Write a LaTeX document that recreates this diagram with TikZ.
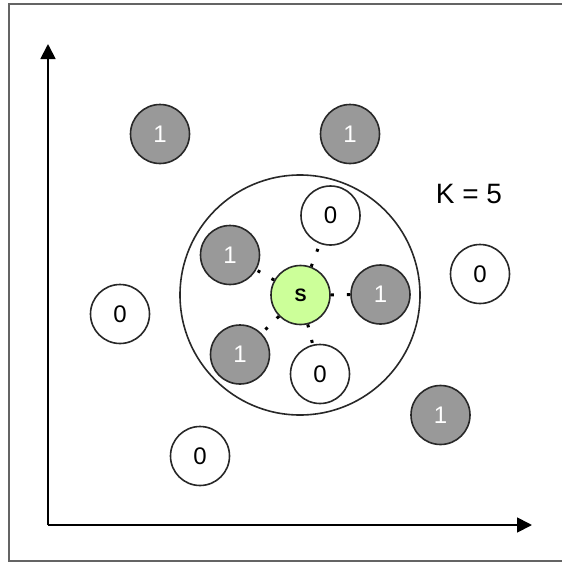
\documentclass[tikz,border=0pt]{standalone}
\usepackage{fontspec}
\setmainfont{Liberation Sans}
\usetikzlibrary{arrows.meta}
\definecolor{pointgray}{RGB}{153,153,153}
\definecolor{seedgreen}{RGB}{204,255,153}
\definecolor{edgegray}{RGB}{40,40,40}
\definecolor{framegray}{RGB}{100,100,100}

\begin{document}
\begin{tikzpicture}[x=1pt,y=-1pt,
    sample/.style={circle, draw=edgegray, line width=1.6pt, minimum size=59pt, inner sep=0pt,
        font=\fontsize{24}{26}\selectfont},
    one/.style={sample, fill=pointgray, text=white},
    zero/.style={sample, fill=white},
    seed/.style={sample, fill=seedgreen, font=\fontsize{18}{20}\selectfont\bfseries},
    link/.style={line width=3pt, dash pattern=on 3pt off 13pt}]
    \useasboundingbox (0,0) rectangle (562,565);

    % Frame (the right side is cut off)
    \draw[framegray, line width=1.8pt] (570,4) -- (9,4) -- (9,561) -- (570,561);

    % Axes
    \coordinate (origin) at (48,525);
    \coordinate (xend) at (532,525);
    \coordinate (yend) at (48,44);
    \draw[line width=1.8pt, -{Triangle[length=15pt,width=15pt]}] (origin) -- (xend);
    \draw[line width=1.8pt, -{Triangle[length=15pt,width=15pt]}] (origin) -- (yend);

    % Neighbourhood of the query point
    \node[circle, draw=edgegray, line width=1.6pt, minimum size=240pt] (hood) at (300,295) {};

    % Query point and its neighbours
    \node[seed] (s) at (300.5,295) {S};
    \node[zero] (nTop) at (330.5,215.5) {0};
    \node[one] (nLeft) at (230,255) {1};
    \node[one] (nRight) at (380.5,294.5) {1};
    \node[one] (nLow) at (240,354.5) {1};
    \node[zero] (nBottom) at (320,374) {0};

    % Other points
    \node[one] (a) at (160,134) {1};
    \node[one] (b) at (350,134) {1};
    \node[zero] (c) at (480,274) {0};
    \node[zero] (d) at (120,314) {0};
    \node[one] (e) at (440.5,415) {1};
    \node[zero] (f) at (200,456) {0};

    % Links to the K nearest
    \foreach \n in {nTop,nLeft,nRight,nLow,nBottom}
        \draw[link] (s) -- (\n);

    % Label
    \node[font=\fontsize{28}{30}\selectfont] (k) at (469,194) {K = 5};
\end{tikzpicture}
\end{document}
